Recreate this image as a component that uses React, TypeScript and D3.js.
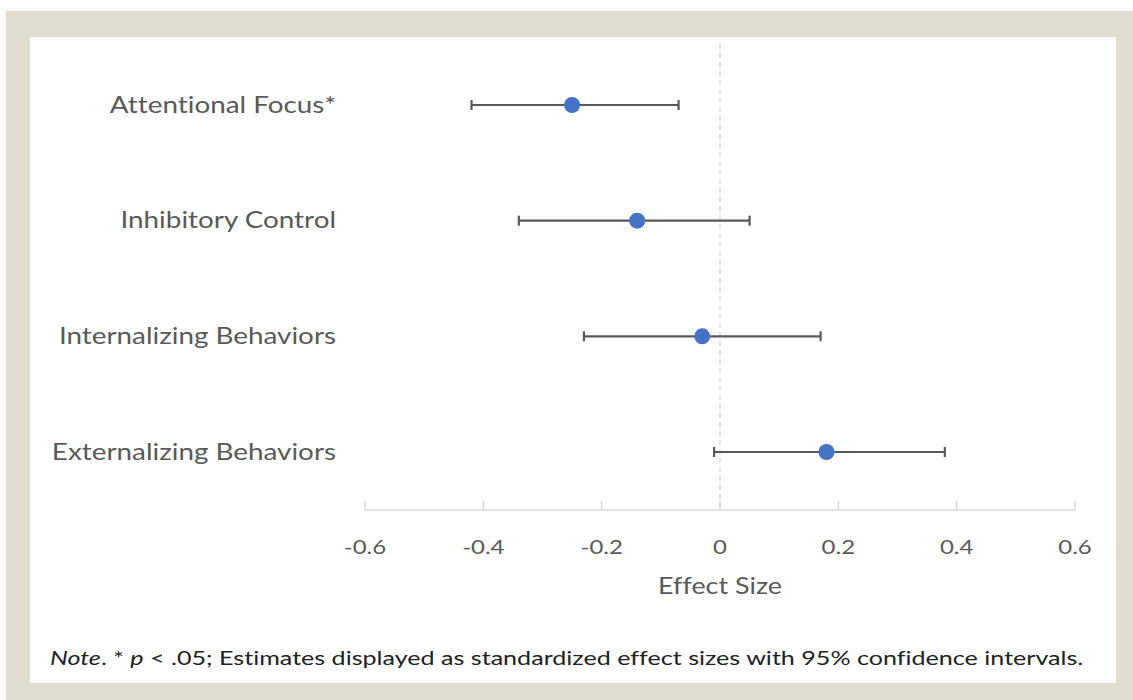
import React from "react";
import * as d3 from "d3";

const categories = ["Attentional Focus*", "Inhibitory Control", "Internalizing Behaviors", "Externalizing Behaviors"];
const estimates = [-0.25, -0.14, -0.03, 0.18];
const lowerCI = [-0.42, -0.34, -0.23, -0.01];
const upperCI = [-0.07, 0.05, 0.17, 0.38];
const xTicks = [-0.6, -0.4, -0.2, 0, 0.2, 0.4, 0.6];

export default function App() {
  const W = 1133, H = 700;
  const x = d3.scaleLinear().domain([-0.6, 0.6]).range([365, 1075]);
  const y = d3.scalePoint<string>().domain(categories).range([105, 452]);
  const axisY = 510;
  const font = "Lato, 'Open Sans', sans-serif";
  const noLig = { fontVariantLigatures: "none" } as React.CSSProperties;
  const fmt = (v: number) => (v === 0 ? "0" : d3.format(".1f")(v).replace("\u2212", "-"));
  const st = (px: number, py: number, s: number) => `translate(${px},${py}) scale(${s},1)`;
  return (
    <div style={{ position: "absolute", left: 0, top: 0 }}>
      <svg width={W} height={H} style={{ display: "block" }}>
        <rect x={0} y={0} width={W} height={H} fill="#ffffff" />
        <rect x={6} y={11} width={W - 6} height={H - 11} fill="#e0dcd0" />
        <rect x={30} y={37} width={1086} height={646} fill="#ffffff" />
        <line x1={x(0)} x2={x(0)} y1={44} y2={axisY} stroke="#d9d9d9" strokeWidth={1.5} strokeDasharray="5,4" />
        <line x1={x(-0.6)} x2={x(0.6)} y1={axisY} y2={axisY} stroke="#d9d9d9" strokeWidth={1.5} />
        {xTicks.map((t) => (
          <g key={t}>
            <line x1={x(t)} x2={x(t)} y1={axisY - 9} y2={axisY} stroke="#d9d9d9" strokeWidth={1.5} />
            <text transform={st(x(t), 554, 1.2)} textAnchor="middle" fontFamily={font} fontSize={20} fill="#595959">{fmt(t)}</text>
          </g>
        ))}
        <text transform={st(x(0), 594, 1.17)} textAnchor="middle" fontFamily={font} fontSize={23} fill="#595959" style={noLig}>Effect Size</text>
        {categories.map((c, i) => {
          const cy = y(c)!;
          return (
            <g key={c}>
              <text transform={st(336, cy + 7.5, 1.185)} textAnchor="end" fontFamily={font} fontSize={23.5} fill="#595959" style={noLig}>{c}</text>
              <line x1={x(lowerCI[i])} x2={x(upperCI[i])} y1={cy} y2={cy} stroke="#595959" strokeWidth={2.2} />
              <line x1={x(lowerCI[i])} x2={x(lowerCI[i])} y1={cy - 5} y2={cy + 5} stroke="#595959" strokeWidth={2.2} />
              <line x1={x(upperCI[i])} x2={x(upperCI[i])} y1={cy - 5} y2={cy + 5} stroke="#595959" strokeWidth={2.2} />
              <circle cx={x(estimates[i])} cy={cy} r={8} fill="#4472c4" />
            </g>
          );
        })}
        <text transform={st(50, 665, 1.255)} fontFamily={font} fontSize={20} fill="#222222" style={noLig}>
          <tspan fontStyle="italic">Note</tspan>. * <tspan fontStyle="italic">p</tspan> &lt; .05; Estimates displayed as standardized effect sizes with 95% confidence intervals.
        </text>
      </svg>
    </div>
  );
}
